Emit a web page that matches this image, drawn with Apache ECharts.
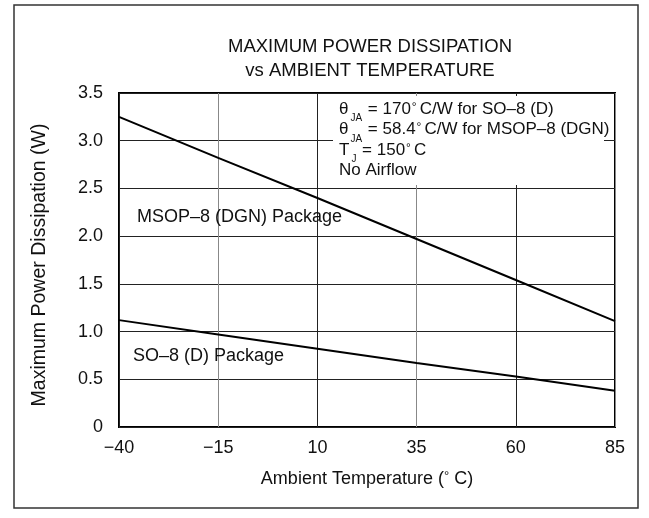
<!DOCTYPE html>
<html>
<head>
<meta charset="utf-8">
<script src="https://cdn.jsdelivr.net/npm/echarts@6/dist/echarts.min.js"></script>
<style>html,body{margin:0;padding:0;background:#fff}#c{width:649px;height:518px}</style>
</head>
<body>
<div id="c"></div>
<script>
// Data
var tempCategories = ['-40', '-15', '10', '35', '60', '85'];
var msopValues = [3.25, 2.82, 2.40, 1.97, 1.54, 1.11];
var so8Values = [1.12, 0.97, 0.82, 0.67, 0.53, 0.38];
var yMin = 0, yMax = 3.5, yStep = 0.5;
var titleLines = ['MAXIMUM POWER DISSIPATION', 'vs AMBIENT TEMPERATURE'];
var yAxisName = 'Maximum Power Dissipation (W)';
var msopLabel = 'MSOP\u20138 (DGN) Package';
var so8Label = 'SO\u20138 (D) Package';
// annotation lines: [text, kind] pieces (m = main, sub = subscript, sup = superscript)
var noteLines = [
  [['\u03b8', 'm'], ['JA', 'sub'], [' = 170', 'm'], ['\u00b0', 'sup'], ['C/W for SO\u20138 (D)', 'm']],
  [['\u03b8', 'm'], ['JA', 'sub'], [' = 58.4', 'm'], ['\u00b0', 'sup'], ['C/W for MSOP\u20138 (DGN)', 'm']],
  [['T', 'm'], ['J', 'sub'], [' = 150', 'm'], ['\u00b0', 'sup'], ['C', 'm']],
  [['No Airflow', 'm']]
];

var FONT = 'Liberation Sans, Arial, sans-serif';
var chart = echarts.init(document.getElementById('c'), null, {renderer: 'canvas'});

var measureCtx = document.createElement('canvas').getContext('2d');
function textWidth(t, fs) { measureCtx.font = fs + 'px ' + FONT; return measureCtx.measureText(t).width; }

var pieceStyle = {
  m:   {fs: 17, dy: 0,  padL: 0, padR: 0},
  sub: {fs: 10, dy: 7,  padL: 2, padR: 1},
  sup: {fs: 12, dy: -3.5, padL: 1, padR: 3}
};

function buildNotes(x0, baselines) {
  var els = [];
  noteLines.forEach(function (line, i) {
    var x = x0, b = baselines[i];
    line.forEach(function (p) {
      var st = pieceStyle[p[1]];
      x += st.padL;
      els.push({type: 'text', x: x, y: b + st.dy - 0.35 * st.fs, z: 110,
        style: {text: p[0], font: st.fs + 'px ' + FONT, fill: '#111', verticalAlign: 'middle'}});
      x += textWidth(p[0], st.fs) + st.padR;
    });
  });
  return els;
}

var option = {
  backgroundColor: '#fff',
  animation: false,
  grid: {left: 119, right: 34, top: 93, bottom: 91, show: true, borderColor: '#000', borderWidth: 2, backgroundColor: 'transparent'},
  xAxis: {
    type: 'category',
    data: tempCategories,
    boundaryGap: false,
    name: 'Ambient Temperature ({sup|°} C)',
    nameLocation: 'middle',
    nameGap: 43,
    nameTextStyle: {fontFamily: FONT, fontSize: 18, color: '#111',
      rich: {sup: {fontFamily: FONT, fontSize: 13, color: '#111', verticalAlign: 'top'}}},
    axisLine: {show: false},
    axisTick: {show: false},
    axisLabel: {interval: 0, margin: 12, fontFamily: FONT, fontSize: 18, color: '#111',
      formatter: function (v) { return v.replace('-', '\u2212'); }},
    splitLine: {show: true, interval: 0, lineStyle: {color: ['#222', '#888'], width: 1}}
  },
  yAxis: {
    type: 'value',
    min: yMin, max: yMax, interval: yStep,
    axisLine: {show: false},
    axisTick: {show: false},
    axisLabel: {margin: 16, fontFamily: FONT, fontSize: 18, color: '#111',
      formatter: function (v) { return v === 0 ? '0' : v.toFixed(1); }},
    splitLine: {show: true, lineStyle: {color: '#222', width: 1}}
  },
  series: [
    {type: 'line', data: msopValues, symbol: 'none', silent: true, z: 5,
      lineStyle: {color: '#000', width: 2}},
    {type: 'line', data: so8Values, symbol: 'none', silent: true, z: 5,
      lineStyle: {color: '#000', width: 2}}
  ],
  graphic: [
    {type: 'rect', shape: {x: 14, y: 5, width: 624, height: 503}, z: 0,
      style: {fill: 'none', stroke: '#333', lineWidth: 1.5}},
    {type: 'text', x: 370, y: 47, style: {text: titleLines[0], font: '18.5px ' + FONT, fill: '#111', align: 'center', verticalAlign: 'middle'}},
    {type: 'text', x: 370, y: 71, style: {text: titleLines[1], font: '18.5px ' + FONT, fill: '#111', align: 'center', verticalAlign: 'middle'}},
    {type: 'text', x: 40, y: 265, rotation: Math.PI / 2,
      style: {text: yAxisName, font: '19.5px ' + FONT, fill: '#111', align: 'center', verticalAlign: 'middle'}},
    {type: 'rect', shape: {x: 333, y: 96, width: 271, height: 89}, z: 100,
      style: {fill: '#fff', stroke: 'none'}},
    {type: 'text', x: 137, y: 217, z: 100, style: {text: msopLabel, font: '18px ' + FONT, fill: '#111', verticalAlign: 'middle'}},
    {type: 'text', x: 133, y: 356, z: 100, style: {text: so8Label, font: '18px ' + FONT, fill: '#111', verticalAlign: 'middle'}}
  ].concat(buildNotes(339, [115, 135.5, 156, 176.5]))
};
chart.setOption(option);
</script>
</body>
</html>
